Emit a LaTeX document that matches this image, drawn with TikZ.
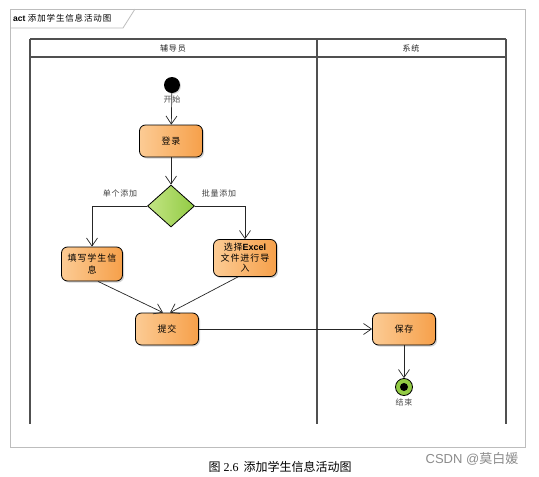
\documentclass[tikz,border=0pt]{standalone}
\usepackage{fontspec}
\setmainfont{Liberation Serif}
\newfontfamily\cjk[LetterSpace=10]{Noto Sans CJK SC}
\newfontfamily\cjkplain{Noto Sans CJK SC}
\newfontfamily\lsans{Liberation Sans}
\usetikzlibrary{arrows.meta,shapes.geometric,shadows}
\definecolor{orL}{HTML}{FCCB94}
\definecolor{orR}{HTML}{F6A04A}
\definecolor{grL}{HTML}{C3E584}
\definecolor{grR}{HTML}{92CB44}
\definecolor{frameGray}{HTML}{BDBDBD}
\definecolor{laneGray}{HTML}{505050}
\tikzset{
  actbox/.style={draw=black, line width=0.8pt, rounded corners=6pt,
    left color=orL, right color=orR, minimum width=63pt, minimum height=32pt,
    inner sep=1pt, align=center,
    font=\cjk\fontsize{9}{11.5}\selectfont,
    drop shadow={shadow xshift=1.5pt, shadow yshift=-1.5pt, opacity=0.35}},
  decbox/.style={diamond, draw=black, line width=0.8pt, left color=grL, right color=grR,
    minimum width=47pt, minimum height=42pt, inner sep=0pt, aspect=1.1},
  flow/.style={draw=black!85, line width=0.7pt, -{Straight Barb[length=8pt,width=11pt,line width=0.7pt]}},
  lane/.style={draw=laneGray, line width=1.4pt},
  lbl/.style={font=\cjk\fontsize{8}{9}\selectfont, text=black!75},
  hdr/.style={font=\cjk\fontsize{8}{9}\selectfont, text=black!85},
}
\begin{document}
\begin{tikzpicture}[x=1pt,y=-1pt]
\useasboundingbox[fill=white] (0,0) rectangle (539,477);
% outer frame
\draw[frameGray, line width=0.8pt] (10,9) rectangle (525,447);
\draw[frameGray, line width=0.8pt] (10,28) -- (123,28) -- (135,9);
\node[anchor=west, inner sep=0pt] (title) at (13,18)
  {{\lsans\bfseries\fontsize{8.5}{9}\selectfont act} {\cjk\fontsize{8.5}{9}\selectfont 添加学生信息活动图}};
% swimlanes
\draw[lane] (30,39) -- (506,39);
\draw[lane] (30,57) -- (506,57);
\draw[lane] (30,39) -- (30,424);
\draw[lane] (317,39) -- (317,424);
\draw[lane] (506,39) -- (506,424);
\node[hdr] (h1) at (173,48) {辅导员};
\node[hdr] (h2) at (411,48) {系统};
% start
\node[circle, fill=black, minimum size=16pt, inner sep=0pt,
  drop shadow={shadow xshift=1pt, shadow yshift=-1pt, opacity=0.3}] (start) at (172,85) {};
\node[lbl, text=black!70] (startl) at (172,99) {开始};
% actions
\node[actbox] (login) at (171,141) {登录};
\node[decbox] (dec) at (171,206) {};
\node[actbox, minimum width=61pt, minimum height=34pt] (fill) at (92,264) {填写学生信\\息};
\node[actbox, minimum width=63pt, minimum height=37pt, inner sep=0.5pt,
  font=\cjk\fontsize{9}{10.5}\selectfont] (excel) at (245,258)
  {选择{\lsans\bfseries Excel}\\文件进行导\\入};
\node[actbox] (submit) at (167,329) {提交};
\node[actbox] (save) at (404,329) {保存};
% end
\node[circle, draw=black, line width=0.8pt, fill=grR, minimum size=17pt, inner sep=0pt] (end) at (404,387) {};
\node[circle, fill=black, minimum size=8pt, inner sep=0pt] (endin) at (end) {};
\node[lbl, text=black!70] (endl) at (404,402) {结束};
% flows
\draw[flow] (start) -- (login);
\draw[flow] (login) -- (dec);
\draw[flow] (dec.west) -| (fill.north);
\draw[flow] (dec.east) -| (excel.north);
\node[lbl] (l1) at (120,193) {单个添加};
\node[lbl] (l2) at (219,193) {批量添加};
\draw[flow] ([xshift=6pt]fill.south) -- ([xshift=-4pt]submit.north);
\draw[flow] ([xshift=-7pt]excel.south) -- ([xshift=3pt]submit.north);
\draw[flow] (submit) -- (save);
\draw[flow] (save) -- (end);
% caption
\node (cap) at (280,467) {\fontsize{12}{14}\selectfont{\cjkplain 图} 2.6\hspace{5pt}{\cjkplain 添加学生信息活动图}};
\node[text=black!45] (wm) at (472,459) {\fontsize{13}{14}\selectfont\lsans CSDN @{\cjkplain 莫白媛}};
\end{tikzpicture}
\end{document}
